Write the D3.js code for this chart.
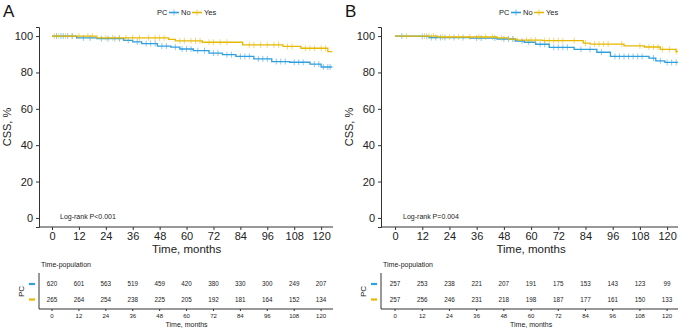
<!DOCTYPE html>
<html><head><meta charset="utf-8">
<script src="https://cdn.jsdelivr.net/npm/d3@7"></script>
<style>body{margin:0;background:#fff}svg{display:block;font-family:"Liberation Sans",Arial,sans-serif}</style>
</head><body><svg id="c" width="678" height="331"></svg>
<script>
const timeTicks = [0,12,24,36,48,60,72,84,96,108,120];
const yTicks = [0,20,40,60,80,100];
const groups = ["No","Yes"];
const colors = ["#2E9FDF","#E7B800"];

// Panel A step curves (time in months, CSS %)
const A_no_t  = [0, 11, 20, 32, 36, 40, 47, 53, 57, 63, 70, 76, 82, 90, 98, 106, 115, 120, 125];
const A_no_s  = [100, 99, 98.6, 97.6, 96.8, 95.9, 94.5, 93.9, 92.9, 92, 90.6, 89.8, 88.8, 87.5, 86, 85.6, 84.6, 83, 83];
const A_yes_t = [0, 20, 52, 55, 67, 85, 103, 111, 123, 125];
const A_yes_s = [100, 99, 98.2, 97.4, 96.6, 95.2, 94.3, 93.3, 91.5, 91.5];
// Panel B step curves
const B_no_t  = [0, 11, 15, 33, 45, 53, 57, 62, 68, 79, 89, 95, 112, 115, 119, 125];
const B_no_s  = [100, 99.8, 99.2, 98.9, 98.4, 97.3, 96.6, 95.5, 93.8, 92.7, 91.1, 88.8, 87.9, 86.4, 85.5, 85.5];
const B_yes_t = [0, 19, 45, 50, 54, 65, 83, 86, 101, 110, 117, 124, 125];
const B_yes_s = [100, 99.5, 99, 98.3, 97.8, 97.5, 96.1, 95.6, 94.6, 94, 92.7, 91.5, 91.5];

// censoring marks (months)
const A_no_cens  = [2,4,5,7,9,14,17,22,25,28,30,34,38,42,44,46,49,51,55,58,60,62,65,68,72,74,78,80,84,86,88,92,94,96,100,102,104,108,110,112,117,119,121,123,124];
const A_yes_cens = [1,3,6,9,12,16,18,24,27,30,33,36,39,43,46,48,50,57,59,62,64,66,70,72,75,78,88,90,93,96,99,101,105,107,113,115,117,120,122];
const B_no_cens  = [3,12,14,16,18,20,22,26,30,36,38,44,48,50,52,56,59,64,66,70,72,74,76,82,86,91,97,99,101,103,105,107,109,114,117,120,122,124];
const B_yes_cens = [5,13,15,17,21,24,28,33,37,40,43,47,52,58,60,62,66,68,70,72,74,79,84,88,90,92,94,100,108,112,114,116,118,121,124];

const A_risk_no  = [620,601,563,519,459,420,380,330,300,249,207];
const A_risk_yes = [265,264,254,238,225,205,192,181,164,152,134];
const B_risk_no  = [257,253,238,221,207,191,175,153,143,123,99];
const B_risk_yes = [257,256,246,231,218,198,187,177,161,150,133];

const svg = d3.select("#c");

function stepVal(ts, ss, t){ let v = ss[0]; for(let i=0;i<ts.length;i++){ if(ts[i]<=t) v=ss[i]; } return v; }

function panel(o){
  const g = svg.append("g");
  const x = d3.scaleLinear().domain(o.xdom).range(o.xr);
  const y = d3.scaleLinear().domain([-5,105]).range([227,27]);
  g.append("text").attr("x",o.letterX).attr("y",17).attr("font-size",17).attr("fill","#111").text(o.letter);
  const lg = g.append("g").attr("font-size",7.5).attr("fill","#222");
  lg.append("text").attr("x",o.legX).attr("y",15).text("PC");
  let lx = o.legX+12;
  groups.forEach((k,i)=>{
    lg.append("line").attr("x1",lx).attr("x2",lx+10).attr("y1",12.5).attr("y2",12.5).attr("stroke",colors[i]).attr("stroke-width",1.6);
    lg.append("line").attr("x1",lx+5).attr("x2",lx+5).attr("y1",9.5).attr("y2",15.5).attr("stroke",colors[i]).attr("stroke-opacity",0.6).attr("stroke-width",1);
    lg.append("text").attr("x",lx+12).attr("y",15).text(k);
    lx += 12 + (k==="No"?11:0);
  });
  const ya = g.append("g").attr("transform",`translate(${o.xr[0]},0)`).call(d3.axisLeft(y).tickValues(yTicks).tickSize(3).tickPadding(3));
  ya.selectAll("text").attr("font-size",11).attr("fill","#222").attr("font-family","Liberation Sans,Arial,sans-serif");
  ya.select(".domain").attr("stroke","#333");
  ya.selectAll(".tick line").attr("stroke","#333");
  const xa = g.append("g").attr("transform",`translate(0,227)`).call(d3.axisBottom(x).tickValues(timeTicks).tickSize(3).tickPadding(2));
  xa.selectAll("text").attr("font-size",11).attr("fill","#222").attr("font-family","Liberation Sans,Arial,sans-serif");
  xa.select(".domain").attr("stroke","#333").attr("d",`M${o.xr[0]},0H${o.xr[1]}`);
  xa.selectAll(".tick line").attr("stroke","#333");
  g.append("text").attr("x",(x(0)+x(120))/2).attr("y",253).attr("text-anchor","middle").attr("font-size",11.5).attr("fill","#222").text("Time, months");
  g.append("text").attr("transform",`translate(${o.xr[0]-28},${y(50)}) rotate(-90)`).attr("text-anchor","middle").attr("font-size",11).attr("fill","#222").text("CSS, %");
  g.append("text").attr("x",x(0)+8).attr("y",219).attr("font-size",7).attr("fill","#222").text(o.pval);
  const line = d3.line().x(d=>x(d[0])).y(d=>y(d[1])).curve(d3.curveStepAfter);
  o.curves.forEach((c,i)=>{
    const pts = c.t.map((t,j)=>[t,c.s[j]]);
    g.append("path").attr("d",line(pts)).attr("fill","none").attr("stroke",colors[i]).attr("stroke-width",1.3);
    c.cens.forEach(t=>{
      const v = stepVal(c.t,c.s,t);
      g.append("line").attr("x1",x(t)).attr("x2",x(t)).attr("y1",y(v)-3).attr("y2",y(v)+3).attr("stroke",colors[i]).attr("stroke-opacity",0.55).attr("stroke-width",1);
    });
  });
  const tb = g.append("g");
  tb.append("text").attr("x",o.xr[0]+2).attr("y",267).attr("font-size",7).attr("fill","#222").text("Time-population");
  tb.append("line").attr("x1",o.xr[0]).attr("x2",o.xr[0]).attr("y1",273).attr("y2",309).attr("stroke","#333");
  tb.append("line").attr("x1",o.xr[0]).attr("x2",o.xr[1]).attr("y1",309).attr("y2",309).attr("stroke","#333");
  const rows = [{v:o.riskNo,y:284},{v:o.riskYes,y:299.5}];
  rows.forEach((r,i)=>{
    tb.append("line").attr("x1",o.xr[0]-10).attr("x2",o.xr[0]-4).attr("y1",r.y).attr("y2",r.y).attr("stroke",colors[i]).attr("stroke-width",2.2);
    r.v.forEach((n,j)=>{
      tb.append("text").attr("x",x(timeTicks[j])).attr("y",r.y+2.3).attr("text-anchor","middle").attr("font-size",6.3).attr("fill","#222").text(n);
    });
  });
  timeTicks.forEach(t=>{
    tb.append("line").attr("x1",x(t)).attr("x2",x(t)).attr("y1",309).attr("y2",311).attr("stroke","#333");
    tb.append("text").attr("x",x(t)).attr("y",317.5).attr("text-anchor","middle").attr("font-size",6).attr("fill","#222").text(t);
  });
  tb.append("text").attr("x",(x(0)+x(120))/2).attr("y",327).attr("text-anchor","middle").attr("font-size",7).attr("fill","#222").text("Time, months");
  tb.append("text").attr("transform",`translate(${o.xr[0]-15},${291.5}) rotate(-90)`).attr("text-anchor","middle").attr("font-size",8).attr("fill","#222").text("PC");
}

panel({letter:"A",letterX:3,legX:157,xdom:[-5.8,125.3],xr:[39,333],pval:"Log-rank P<0.001",
  curves:[{t:A_no_t,s:A_no_s,cens:A_no_cens},{t:A_yes_t,s:A_yes_s,cens:A_yes_cens}],riskNo:A_risk_no,riskYes:A_risk_yes});
panel({letter:"B",letterX:345,legX:499,xdom:[-6.2,124.8],xr:[381,678],pval:"Log-rank P=0.004",
  curves:[{t:B_no_t,s:B_no_s,cens:B_no_cens},{t:B_yes_t,s:B_yes_s,cens:B_yes_cens}],riskNo:B_risk_no,riskYes:B_risk_yes});
</script></body></html>
